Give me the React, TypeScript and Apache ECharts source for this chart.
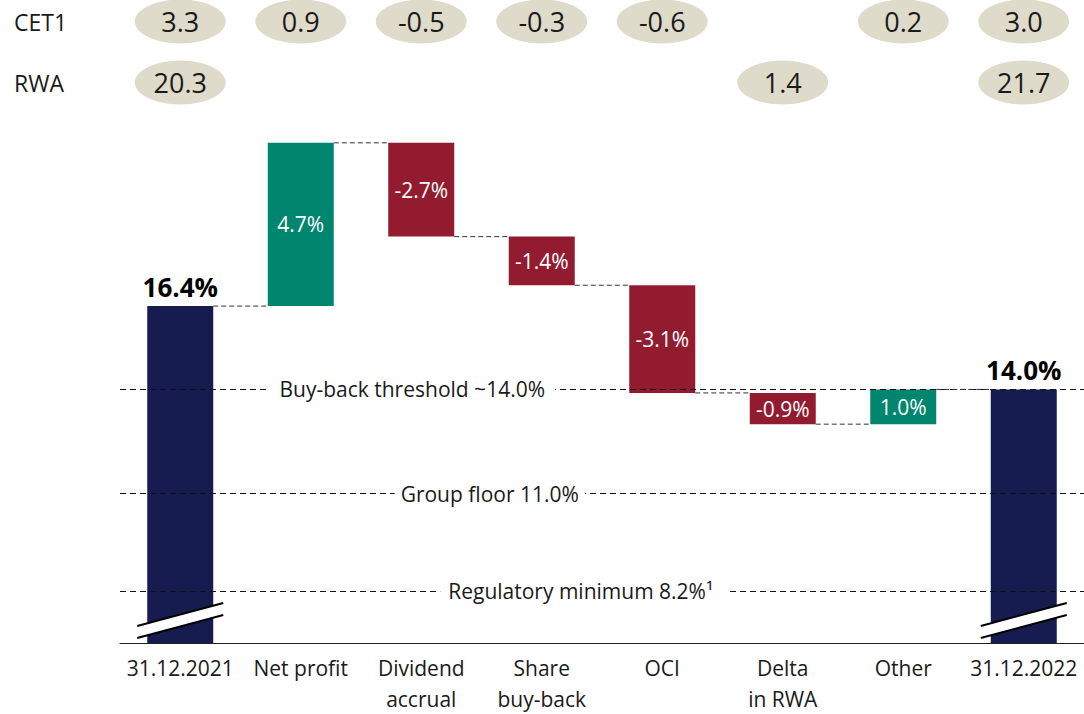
import React, { useEffect, useRef } from "react";
import * as echarts from "echarts";

const categories = [
  "31.12.2021",
  "Net profit",
  "Dividend\naccrual",
  "Share\nbuy-back",
  "OCI",
  "Delta\nin RWA",
  "Other",
  "31.12.2022",
];
const startValue = 16.4;
const deltas = [4.7, -2.7, -1.4, -3.1, -0.9, 1.0];
const endValue = 14.0;
const cet1 = [3.3, 0.9, -0.5, -0.3, -0.6, null, 0.2, 3.0];
const rwa = [20.3, null, null, null, null, 1.4, null, 21.7];
const thresholdValues = [14.0, 11.0, 8.2];
const thresholdLabels = [
  "Buy-back threshold ~14.0%",
  "Group floor 11.0%",
  "Regulatory minimum 8.2%\u00B9",
];
const thresholdLabelCategory = [2, 3, 3];
const thresholdLabelShift = [-9, -52, 42];
const thresholdLabelPad = [[0, 10, 0, 10], [0, 6, 0, 6], [0, 14, 0, 8]];

const FONT = "'Open Sans', sans-serif";
const NAVY = "#161c50";
const GREEN = "#00856f";
const RED = "#931b30";
const INK = "#1a1a1a";
const Y_MIN = 6.7;
const Y_MAX = 22;
const BAR_W = 66;

export default function App() {
  const ref = useRef<HTMLDivElement>(null);

  useEffect(() => {
    if (!ref.current) return;
    const chart = echarts.init(ref.current, null, { renderer: "svg" });

    const base: number[] = [0];
    const heights: number[] = [startValue];
    const levels: number[] = [startValue];
    let running = startValue;
    deltas.forEach((d) => {
      if (d >= 0) {
        base.push(running);
        heights.push(d);
      } else {
        base.push(running + d);
        heights.push(-d);
      }
      running += d;
      levels.push(running);
    });
    base.push(0);
    heights.push(endValue);

    const barData = heights.map((h, i) => {
      const isTotal = i === 0 || i === heights.length - 1;
      if (isTotal) {
        return {
          value: h,
          itemStyle: { color: NAVY },
          label: {
            show: true,
            position: "top",
            distance: 6,
            formatter: (i === 0 ? startValue : endValue).toFixed(1) + "%",
            fontFamily: FONT,
            fontWeight: "bold",
            fontSize: 26,
            color: "#000",
          },
        };
      }
      const d = deltas[i - 1];
      return {
        value: h,
        itemStyle: { color: d >= 0 ? GREEN : RED },
        label: {
          show: true,
          position: "inside",
          formatter: d.toFixed(1) + "%",
          fontFamily: FONT,
          fontSize: 21,
          color: "#fff",
        },
      };
    });

    const connectorData = levels.map((lv, i) => [i, lv]);

    const makeEllipses = (arr: (number | null)[], row: number) =>
      arr
        .map((v, i) => (v == null ? null : [i, row, v]))
        .filter((x) => x !== null);

    const ellipseSeries = (arr: (number | null)[], row: number) => ({
      type: "scatter",
      xAxisIndex: 1,
      yAxisIndex: 1,
      symbol: "circle",
      symbolSize: [91, 44],
      itemStyle: { color: "#dedbca", opacity: 1 },
      silent: true,
      data: makeEllipses(arr, row),
      label: {
        show: true,
        position: "inside",
        formatter: (p: any) => Number(p.value[2]).toFixed(1),
        fontFamily: FONT,
        fontSize: 27,
        color: INK,
      },
    });

    chart.setOption({
      animation: false,
      grid: [
        { left: 120, width: 966, top: 644 - (Y_MAX - Y_MIN) * 34.8, height: (Y_MAX - Y_MIN) * 34.8 },
        { left: 120, width: 966, top: 21.5, height: 61 },
      ],
      xAxis: [
        {
          type: "category",
          gridIndex: 0,
          data: categories,
          axisLine: { lineStyle: { color: "#222", width: 1 } },
          axisTick: { show: false },
          axisLabel: {
            fontFamily: FONT,
            fontSize: 21,
            color: INK,
            lineHeight: 31,
            margin: 9,
            interval: 0,
          },
        },
        {
          type: "category",
          gridIndex: 1,
          data: categories,
          show: false,
        },
      ],
      yAxis: [
        {
          type: "value",
          gridIndex: 0,
          min: Y_MIN,
          max: Y_MAX,
          show: false,
          splitLine: { show: false },
        },
        {
          type: "value",
          gridIndex: 1,
          min: 0,
          max: 1,
          interval: 1,
          axisLine: { show: false },
          axisTick: { show: false },
          splitLine: { show: false },
          axisLabel: {
            formatter: (v: number) => (v === 1 ? "CET1" : "RWA"),
            align: "left",
            margin: 106,
            fontFamily: FONT,
            fontSize: 23,
            color: INK,
          },
        },
      ],
      series: [
        {
          type: "bar",
          stack: "w",
          barWidth: BAR_W,
          data: base,
          itemStyle: { color: "transparent" },
          silent: true,
          z: 2,
        },
        {
          type: "bar",
          stack: "w",
          barWidth: BAR_W,
          data: barData,
          z: 2,
        },
        {
          type: "custom",
          z: 4,
          silent: true,
          data: connectorData,
          renderItem: (params: any, api: any) => {
            const idx = api.value(0);
            const lv = api.value(1);
            const p1 = api.coord([idx, lv]);
            const p2 = api.coord([idx + 1, lv]);
            return {
              type: "line",
              shape: { x1: p1[0] + BAR_W / 2, y1: p1[1], x2: p2[0] - BAR_W / 2, y2: p2[1] },
              style: { stroke: "#333", lineWidth: 1, lineDash: [5, 3] },
            };
          },
        },
        {
          type: "scatter",
          z: 5,
          symbolSize: 1,
          itemStyle: { color: "transparent", opacity: 1 },
          silent: true,
          data: thresholdValues.map((v, i) => ({
            value: [thresholdLabelCategory[i], v],
            label: {
              show: true,
              position: "inside",
              offset: [thresholdLabelShift[i], 0],
              formatter: thresholdLabels[i],
              fontFamily: FONT,
              fontSize: 21,
              color: INK,
              backgroundColor: "#fff",
              padding: thresholdLabelPad[i],
            },
          })),
          markLine: {
            silent: true,
            symbol: "none",
            z: 3,
            label: { show: false },
            lineStyle: { color: "#111", width: 1, type: [6, 4] },
            data: thresholdValues.map((v) => ({ yAxis: v })),
          },
        },
        {
          type: "custom",
          z: 6,
          silent: true,
          data: [[0], [categories.length - 1]],
          renderItem: (params: any, api: any) => {
            const c = api.coord([api.value(0), Y_MIN]);
            const cx = c[0];
            const b = c[1];
            return {
              type: "group",
              children: [
                {
                  type: "polygon",
                  shape: {
                    points: [
                      [cx - 43, b - 17],
                      [cx + 43, b - 40],
                      [cx + 43, b - 28],
                      [cx - 43, b - 5],
                    ],
                  },
                  style: { fill: "#fff" },
                },
                {
                  type: "line",
                  shape: { x1: cx - 43, y1: b - 17, x2: cx + 43, y2: b - 40 },
                  style: { stroke: "#000", lineWidth: 2 },
                },
                {
                  type: "line",
                  shape: { x1: cx - 43, y1: b - 5, x2: cx + 43, y2: b - 28 },
                  style: { stroke: "#000", lineWidth: 2 },
                },
              ],
            };
          },
        },
        ellipseSeries(cet1, 1),
        ellipseSeries(rwa, 0),
      ],
    });

    return () => chart.dispose();
  }, []);

  return (
    <div
      ref={ref}
      style={{ position: "absolute", left: 0, top: 0, width: 1084, height: 714, background: "#fff" }}
    />
  );
}
